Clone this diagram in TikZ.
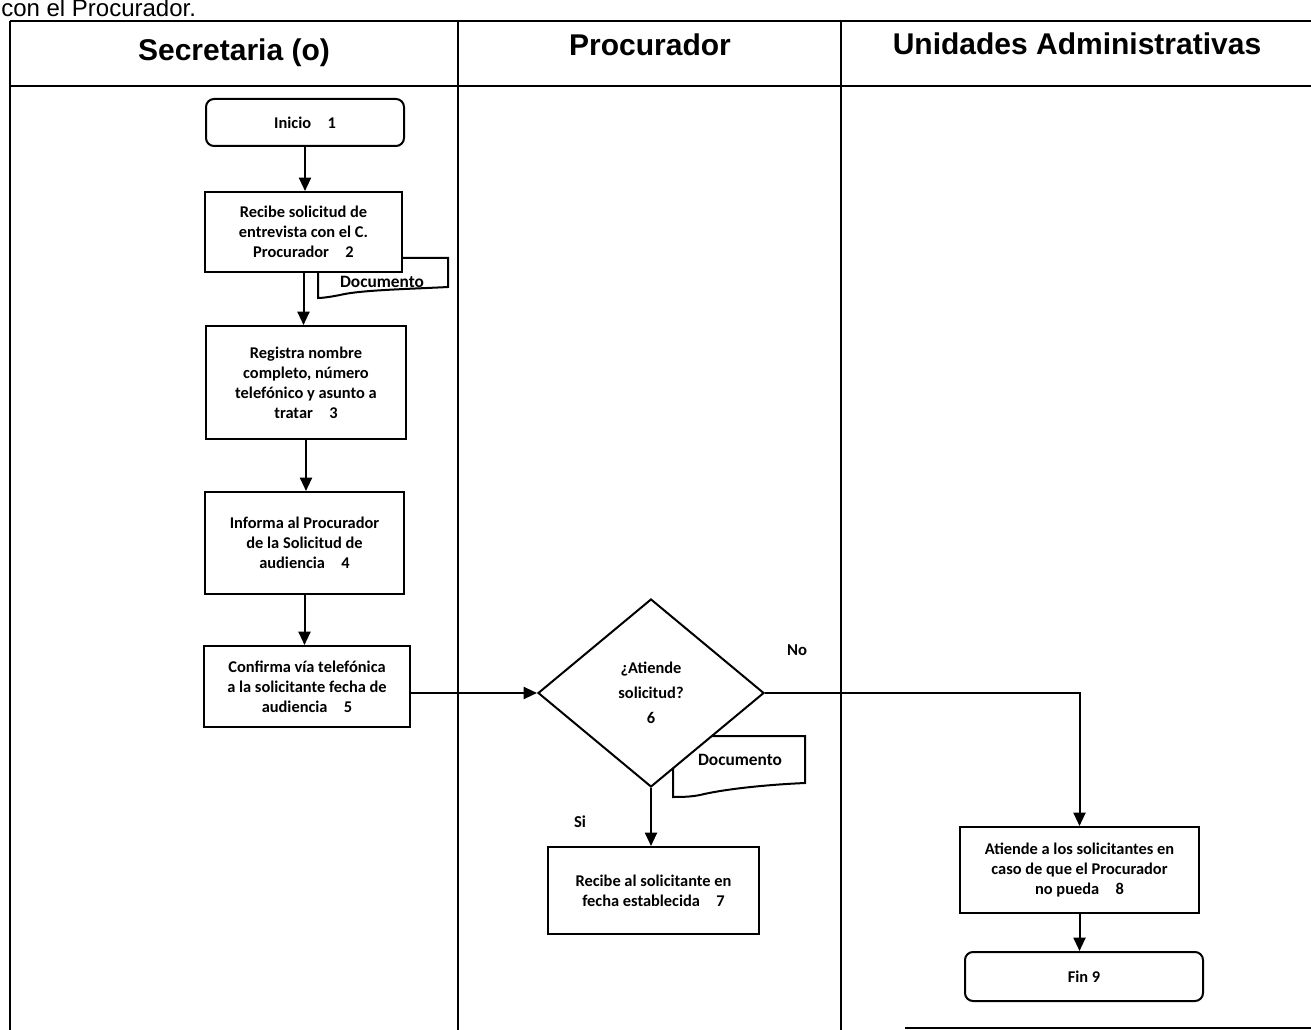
\documentclass[tikz,border=0pt]{standalone}
\usepackage{fontspec}
\setmainfont{Carlito}
\newfontfamily\hdrfont{Liberation Sans}
\usetikzlibrary{shapes.geometric,arrows.meta}
\begin{document}
\begin{tikzpicture}[x=0.75pt,y=-0.75pt,
  lane/.style={line width=0.8pt},
  hline/.style={line width=1.6pt},
  hdr/.style={font=\hdrfont\bfseries\fontsize{22.5}{27}\selectfont, inner sep=0pt, anchor=base},
  txt/.style={font=\bfseries\fontsize{12.3}{15}\selectfont},
  proc/.style={draw, line width=1.5pt, fill=white, align=center, inner sep=2pt, txt},
  term/.style={proc, rounded corners=6pt},
  dec/.style={draw, diamond, line width=1.5pt, fill=white, align=center, inner sep=0pt,
     font=\bfseries\fontsize{12.3}{18.75}\selectfont},
  doc/.style={draw, line width=1.5pt, fill=white},
  lbl/.style={font=\bfseries\fontsize{12.5}{14}\selectfont, inner sep=0pt},
  doclbl/.style={font=\bfseries\fontsize{13}{14}\selectfont, inner sep=0pt},
  flow/.style={line width=1.5pt, -{Triangle[length=10pt,width=9pt]}}
]
\useasboundingbox (0,0) rectangle (1311,1030);
\fill[white] (0,0) rectangle (1311,1030);

% caption
\node[anchor=base west, inner sep=0pt, font=\hdrfont\fontsize{18}{20}\selectfont] (cap) at (1,17) {con el Procurador.};

% swimlanes
\draw[hline] (10,21) -- (1311,21);
\draw[hline] (10,86) -- (1311,86);
\draw[lane] (10,21) -- (10,1030);
\draw[lane] (458,21) -- (458,1030);
\draw[lane] (841,21) -- (841,1030);
\draw[hline] (905,1028) -- (1311,1028);

\node[hdr] (h1) at (234,61) {Secretaria (o)};
\node[hdr] (h2) at (650,56) {Procurador};
\node[hdr] (h3) at (1077,55) {Unidades Administrativas};

% document shapes (behind the boxes)
\draw[doc] (318,258) -- (448,258) -- (448,287)
  .. controls (410,289) and (360,290) .. (340,295)
  .. controls (330,297) and (322,298) .. (318,298) -- cycle;
\draw[doc] (673,736) -- (805,736) -- (805,783)
  .. controls (760,785) and (720,790) .. (700,795)
  .. controls (690,797) and (680,797) .. (673,797) -- cycle;
\node[doclbl] (doc1) at (382,282) {Documento};
\node[doclbl] (doc2) at (740,760) {Documento};

% nodes
\node[term, minimum width=148.5pt, minimum height=35.25pt] (n1) at (305,122.5) {Inicio\quad 1};
\node[proc, minimum width=147.75pt, minimum height=60pt] (n2) at (303.5,232) {Recibe solicitud de\\entrevista con el C.\\Procurador\quad 2};
\node[proc, minimum width=150pt, minimum height=84.75pt] (n3) at (306,382.5) {Registra nombre\\completo, número\\telefónico y asunto a\\tratar\quad 3};
\node[proc, minimum width=149.25pt, minimum height=76.5pt] (n4) at (304.5,543) {Informa al Procurador\\de la Solicitud de\\audiencia\quad 4};
\node[proc, minimum width=154.5pt, minimum height=60.75pt] (n5) at (307,686.5) {Confirma vía telefónica\\a la solicitante fecha de\\audiencia\quad 5};
\node[dec, minimum width=169.5pt, minimum height=141pt] (n6) at (651,693) {¿Atiende\\solicitud?\\6};
\node[proc, minimum width=158.25pt, minimum height=65.25pt] (n7) at (653.5,890.5) {Recibe al solicitante en\\fecha establecida\quad 7};
\node[proc, minimum width=179.25pt, minimum height=64.5pt] (n8) at (1079.5,870) {Atiende a los solicitantes en\\caso de que el Procurador\\no pueda\quad 8};
\node[term, minimum width=178.5pt, minimum height=36.75pt] (n9) at (1084,976.5) {Fin 9};

% labels
\node[lbl] (no) at (797,650) {No};
\node[lbl] (si) at (580,822) {Si};

% connectors
\draw[flow] (n1.south) -- (n1.south |- n2.north);
\draw[flow] (n2.south) -- (n2.south |- n3.north);
\draw[flow] (n3.south) -- (n3.south |- n4.north);
\draw[flow] (n4.south) -- (n4.south |- n5.north);
\draw[flow] (n6.west -| n5.east) -- (n6.west);
\draw[flow] (n6.south) -- (n6.south |- n7.north);
\draw[flow] (n6.east) -| (n8.north);
\draw[flow] (n8.south) -- (n8.south |- n9.north);
\end{tikzpicture}
\end{document}
